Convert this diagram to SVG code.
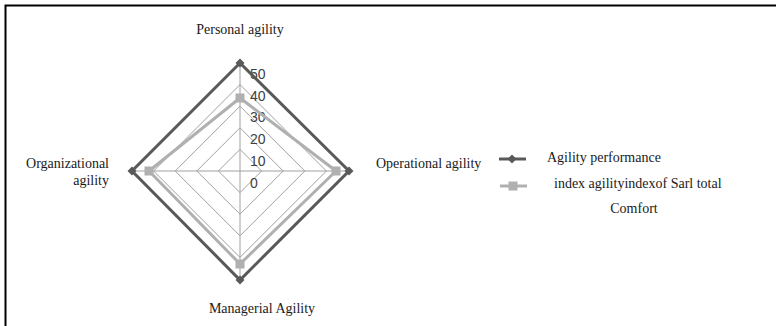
<svg xmlns="http://www.w3.org/2000/svg" width="776" height="326" viewBox="0 0 776 326">
<style>
.lbl{font-family:"Liberation Serif","Times New Roman",serif;font-size:14px;fill:#1a1a1a}
.num{font-family:"Liberation Sans",Arial,sans-serif;font-size:14px;fill:#404040}
.grid{fill:none;stroke:#a0a0a0;stroke-width:1}
.dark{fill:none;stroke:#595959;stroke-width:3;stroke-linejoin:miter}
.light{fill:none;stroke:#b0b0b0;stroke-width:3;stroke-linejoin:miter}
.dm{fill:#595959}
.lm{fill:#b0b0b0}
</style>
<defs>
<path id="dia" d="M0,-4.5 L4.5,0 L0,4.5 L-4.5,0 Z" class="dm"/>
<rect id="sq" x="-4.5" y="-4.5" width="9" height="9" class="lm"/>
</defs>
<rect x="0" y="0" width="776" height="326" fill="#fff"/>
<rect x="5.5" y="5.5" width="820" height="400" fill="none" stroke="#000" stroke-width="2"/>
<g id="grid">
<polygon class="grid" points="240,149.4 261.6,171 240,192.6 218.4,171"/>
<polygon class="grid" points="240,127.8 283.2,171 240,214.2 196.8,171"/>
<polygon class="grid" points="240,106.2 304.8,171 240,235.8 175.2,171"/>
<polygon class="grid" points="240,84.6 326.4,171 240,257.4 153.6,171"/>
<polygon class="grid" points="240,63 348,171 240,279 132,171"/>
<line class="grid" x1="240" y1="63" x2="240" y2="279"/>
<line class="grid" x1="132" y1="171" x2="348" y2="171"/>
</g>
<g id="scale">
<text class="num" x="250" y="79">50</text>
<text class="num" x="250" y="101">40</text>
<text class="num" x="250" y="122">30</text>
<text class="num" x="250" y="144">20</text>
<text class="num" x="250" y="166">10</text>
<text class="num" x="250" y="188">0</text>
</g>
<g id="connectors">
<polygon id="series-light" class="light" points="240,98 336,171 240,264 149,171"/>
<polygon id="series-dark" class="dark" points="240,63 349,171 240,280 132,171"/>
</g>
<g id="markers">
<use href="#dia" x="240" y="63"/>
<use href="#dia" x="349" y="171"/>
<use href="#dia" x="240" y="280"/>
<use href="#dia" x="132" y="171"/>
<use href="#sq" x="240" y="98"/>
<use href="#sq" x="336" y="171"/>
<use href="#sq" x="240" y="264"/>
<use href="#sq" x="149" y="171"/>
</g>
<g id="node-personal"><text class="lbl" x="240" y="34" text-anchor="middle">Personal agility</text></g>
<g id="node-operational"><text class="lbl" x="376" y="168">Operational agility</text></g>
<g id="node-managerial"><text class="lbl" x="262" y="313" text-anchor="middle">Managerial Agility</text></g>
<g id="node-organizational"><text class="lbl" x="109" y="168" text-anchor="end">Organizational</text><text class="lbl" x="109" y="185" text-anchor="end">agility</text></g>
<g id="legend">
<line x1="499" y1="159" x2="526" y2="159" stroke="#595959" stroke-width="3"/>
<use href="#dia" x="512" y="159"/>
<text class="lbl" x="547" y="162">Agility performance</text>
<line x1="500" y1="186" x2="527" y2="186" stroke="#b0b0b0" stroke-width="3"/>
<use href="#sq" x="513" y="186"/>
<text class="lbl" x="554" y="188">index agilityindexof Sarl total</text>
<text class="lbl" x="634" y="213" text-anchor="middle">Comfort</text>
</g>
</svg>
